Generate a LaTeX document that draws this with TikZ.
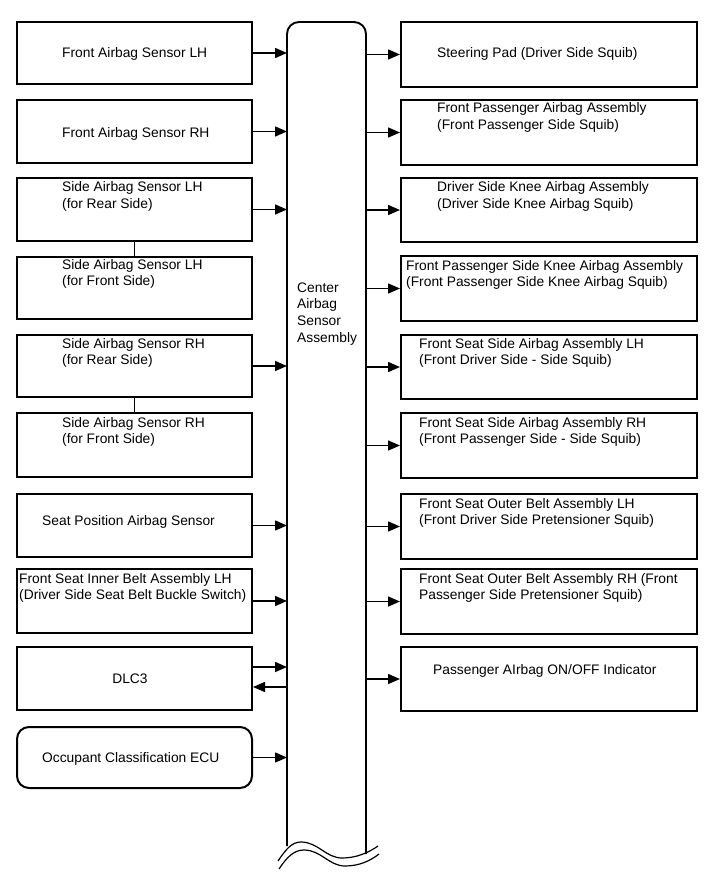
\documentclass[tikz,border=0pt]{standalone}
\usepackage{fontspec}
\setmainfont{Liberation Sans}
\usetikzlibrary{arrows.meta}
\begin{document}
\begin{tikzpicture}[x=1pt,y=-1pt,
  lbox/.style={draw, line width=2pt, minimum width=235pt, inner sep=0pt},
  rbox/.style={draw, line width=2pt, minimum width=296pt, inner sep=0pt},
  lbl/.style={font=\fontsize{13.8}{16.6}\selectfont, align=left, inner sep=0pt, anchor=base west},
  arr/.style={-{Triangle[length=12pt,width=10pt]}, line width=1.5pt},
  colline/.style={line width=1.9pt}]
\useasboundingbox[fill=white] (0,0) rectangle (713,882);

% ---------- center column ----------
\coordinate (colL) at (287,0);
\coordinate (colR) at (366,0);
\draw[colline] (287,846) -- (287,34) arc[start angle=180, end angle=270, radius=12] -- (354,22)
  arc[start angle=270, end angle=360, radius=12] -- (366,854);
\draw[line width=1.2pt] (278,861) .. controls (286,849) and (292,842) .. (301,842)
  .. controls (318,842) and (326,858) .. (342,858) .. controls (356,858) and (368,853) .. (378,846);
\draw[line width=1.2pt] (279,869) .. controls (287,857) and (294,850) .. (304,850)
  .. controls (321,850) and (329,866) .. (345,866) .. controls (359,866) and (370,861) .. (379,854);
\node[lbl] (ctext) at (297,342) {Center\\Airbag\\Sensor\\Assembly};

% ---------- left boxes ----------
\node[lbox, minimum height=62pt] (L1) at (134.5,53) {};
\node[lbox, minimum height=63pt] (L2) at (134.5,131.5) {};
\node[lbox, minimum height=63pt] (L3) at (134.5,209.5) {};
\node[lbox, minimum height=62pt] (L4) at (134.5,288) {};
\node[lbox, minimum height=62pt] (L5) at (134.5,366) {};
\node[lbox, minimum height=64pt] (L6) at (134.5,445) {};
\node[lbox, minimum height=63pt] (L7) at (134.5,525.5) {};
\node[lbox, minimum height=64pt] (L8) at (134.5,601) {};
\node[lbox, minimum height=63pt] (L9) at (134.5,678.5) {};
\node[lbox, minimum height=61pt, rounded corners=12pt] (L10) at (134.5,757.5) {};

\node[lbl] (tL1) at (62,58) {Front Airbag Sensor LH};
\node[lbl] (tL2) at (62,138) {Front Airbag Sensor RH};
\node[lbl] (tL3) at (62,208.6) {Side Airbag Sensor LH\\(for Rear Side)};
\node[lbl] (tL4) at (62,285.6) {Side Airbag Sensor LH\\(for Front Side)};
\node[lbl] (tL5) at (62,364.6) {Side Airbag Sensor RH\\(for Rear Side)};
\node[lbl] (tL6) at (62,443.6) {Side Airbag Sensor RH\\(for Front Side)};
\node[lbl] (tL7) at (42,525) {Seat Position Airbag Sensor};
\node[lbl] (tL8) at (19,599.6) {Front Seat Inner Belt Assembly LH\\(Driver Side Seat Belt Buckle Switch)};
\node[lbl, anchor=base] (tL9) at (130,683) {DLC3};
\node[lbl] (tL10) at (42,762) {Occupant Classification ECU};

\draw[line width=1.5pt] (L3.south) -- (L4.north);
\draw[line width=1.5pt] (L5.south) -- (L6.north);

\foreach \b in {L1,L2,L3,L5,L7,L8,L10}
  \draw[arr] (\b.east) -- (\b.east -| colL);
\draw[arr] ([yshift=11.5pt]L9.east) -- ([yshift=11.5pt]L9.east -| colL);
\draw[arr] ([yshift=-8.5pt]L9.east -| colL) -- ([yshift=-8.5pt]L9.east);

% ---------- right boxes ----------
\node[rbox, minimum height=65pt] (R1) at (549,54.5) {};
\node[rbox, minimum height=65pt] (R2) at (549,132.5) {};
\node[rbox, minimum height=64pt] (R3) at (549,210) {};
\node[rbox, minimum height=65pt] (R4) at (549,288.5) {};
\node[rbox, minimum height=64pt] (R5) at (549,367) {};
\node[rbox, minimum height=65pt] (R6) at (549,445.5) {};
\node[rbox, minimum height=65pt] (R7) at (549,526.5) {};
\node[rbox, minimum height=65pt] (R8) at (549,601.5) {};
\node[rbox, minimum height=64pt] (R9) at (549,679) {};

\node[lbl] (tR1) at (437,58) {Steering Pad (Driver Side Squib)};
\node[lbl] (tR2) at (437,129.6) {Front Passenger Airbag Assembly\\(Front Passenger Side Squib)};
\node[lbl] (tR3) at (437,208.6) {Driver Side Knee Airbag Assembly\\(Driver Side Knee Airbag Squib)};
\node[lbl] (tR4) at (406,286.6) {Front Passenger Side Knee Airbag Assembly\\(Front Passenger Side Knee Airbag Squib)};
\node[lbl] (tR5) at (419,364.6) {Front Seat Side Airbag Assembly LH\\(Front Driver Side - Side Squib)};
\node[lbl] (tR6) at (419,443.6) {Front Seat Side Airbag Assembly RH\\(Front Passenger Side - Side Squib)};
\node[lbl] (tR7) at (419,524.6) {Front Seat Outer Belt Assembly LH\\(Front Driver Side Pretensioner Squib)};
\node[lbl] (tR8) at (419,599.6) {Front Seat Outer Belt Assembly RH (Front\\Passenger Side Pretensioner Squib)};
\node[lbl] (tR9) at (433,674) {Passenger AIrbag ON/OFF Indicator};

\foreach \b in {R1,R2,R3,R4,R5,R6,R7,R8,R9}
  \draw[arr] (\b.west -| colR) -- (\b.west);
\end{tikzpicture}
\end{document}
